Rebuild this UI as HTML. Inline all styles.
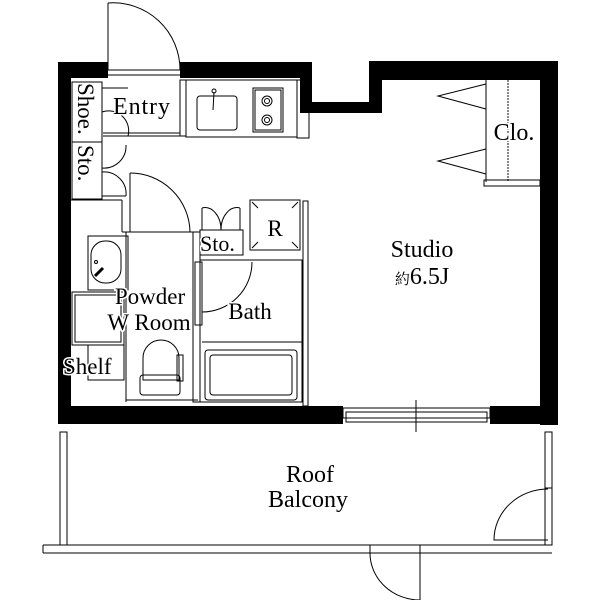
<!DOCTYPE html>
<html><head><meta charset="utf-8"><style>body{margin:0;background:#fff}svg{display:block}text{font-family:"Liberation Serif","Noto Serif CJK SC",serif;fill:#000;stroke:#fff;stroke-width:3px;paint-order:stroke}</style></head><body>
<svg width="600" height="600" viewBox="0 0 600 600" xmlns="http://www.w3.org/2000/svg">
<g fill="#000">
<rect x="58" y="62" width="50" height="16"/>
<rect x="58" y="62" width="13" height="360"/>
<rect x="180" y="62" width="132" height="16"/>
<rect x="300" y="62" width="12" height="51"/>
<rect x="300" y="102" width="82" height="11"/>
<rect x="369" y="61" width="13" height="52"/>
<rect x="369" y="61" width="189" height="19"/>
<rect x="540" y="61" width="18" height="364"/>
<rect x="58" y="406" width="285" height="18"/>
<rect x="490" y="406" width="68" height="18"/>
</g>
<g fill="none" stroke="#000" stroke-width="1">
<line x1="108" y1="3" x2="108" y2="70"/>
<path d="M108 3 A67 67 0 0 1 180 70"/>
<line x1="108" y1="70" x2="180" y2="70"/><line x1="108" y1="75" x2="180" y2="75"/>
<rect x="180" y="80" width="6" height="56"/>
<line x1="103" y1="133" x2="180" y2="133"/><line x1="103" y1="136" x2="180" y2="136"/>
<rect x="72" y="82" width="30" height="60"/>
<rect x="72" y="142" width="30" height="57"/>
<line x1="102" y1="88" x2="128" y2="88"/>
<path d="M102 112 A20 20 0 0 1 128 136"/>
<path d="M102 168 A22 22 0 0 0 126 145"/>
<path d="M102 172 A22 22 0 0 1 126 196"/>
<line x1="102" y1="196" x2="126" y2="196"/>
<line x1="71" y1="200" x2="122" y2="200"/>
<line x1="122" y1="200" x2="122" y2="232"/><line x1="122" y1="232" x2="130" y2="232"/>
<rect x="186" y="80" width="111" height="57"/>
<rect x="197" y="96" width="40" height="34" rx="3"/>
<line x1="214" y1="92" x2="213" y2="110"/><circle cx="214" cy="91" r="2"/>
<rect x="253" y="88" width="30" height="44"/><rect x="255" y="90" width="26" height="40"/>
<circle cx="267" cy="101" r="5"/><circle cx="267" cy="101" r="2.5"/>
<circle cx="267" cy="120" r="5"/><circle cx="267" cy="120" r="2.5"/>
<rect x="297" y="80" width="12" height="58"/>
<line x1="130" y1="173" x2="130" y2="232"/>
<path d="M130 173 A60 60 0 0 1 190 232"/>
<line x1="130" y1="232" x2="193" y2="232"/>
<line x1="126" y1="232" x2="126" y2="402"/>
<line x1="126" y1="400" x2="198" y2="400"/>
<rect x="193" y="232" width="7" height="170"/>
<rect x="88" y="236" width="40" height="54"/>
<rect x="91" y="241" width="30" height="42" rx="14"/>
<circle cx="96" cy="262" r="1.5"/><line x1="95" y1="276" x2="103" y2="268" stroke-width="3"/>
<rect x="72" y="292" width="52" height="53"/><rect x="75" y="295" width="46" height="47"/>
<rect x="88" y="345" width="36" height="35"/>
<path d="M143 380 L143 358 A18 18 0 0 1 179 358 L179 380 Z"/>
<rect x="140" y="375" width="40" height="20" rx="3"/>
<rect x="177" y="355" width="6" height="26"/>
<rect x="200" y="230" width="43" height="25"/>
<line x1="202" y1="208" x2="202" y2="230"/><path d="M202 208 A16 22 0 0 1 221 230"/>
<line x1="240" y1="208" x2="240" y2="230"/><path d="M240 208 A16 22 0 0 0 221 230"/>
<rect x="250" y="200" width="50" height="50"/>
<line x1="252" y1="202" x2="258" y2="208"/><line x1="298" y1="202" x2="292" y2="208"/><line x1="252" y1="248" x2="258" y2="242"/><line x1="298" y1="248" x2="292" y2="242"/>
<rect x="303" y="201" width="5" height="205"/>
<rect x="200" y="260" width="102" height="142"/>
<rect x="195" y="262" width="7" height="63"/>
<path d="M252 262 A50 50 0 0 1 202 312"/>
<line x1="202" y1="342" x2="302" y2="342"/>
<rect x="205" y="350" width="92" height="50" rx="3"/><rect x="210" y="355" width="82" height="40" rx="3"/>
<line x1="486" y1="80" x2="486" y2="182"/>
<line x1="508" y1="80" x2="508" y2="182" stroke="#888" stroke-width="2" stroke-dasharray="2 1"/>
<rect x="484" y="180" width="56" height="6"/>
<path d="M486 84 L438 96 L486 109"/><path d="M486 149 L438 161 L486 174"/>
<rect x="343" y="408" width="147" height="10"/><rect x="346" y="412" width="141" height="10"/>
<line x1="416" y1="400" x2="416" y2="432"/>
<rect x="60" y="432" width="7" height="113"/>
<path d="M43 545 H370 M420 545 H552 M43 553 H370 M420 553 H552 M43 545 V553"/>
<rect x="370" y="545" width="50" height="8"/>
<line x1="420" y1="553" x2="420" y2="600"/>
<path d="M370 553 A50 47 0 0 0 420 600"/>
<rect x="545" y="432" width="7" height="56"/>
<rect x="545" y="488" width="7" height="57"/>
<path d="M548 489 A54 51 0 0 0 494 540 L548 540"/>
</g>
<g font-size="24">
<text x="113" y="114" font-size="24" textLength="57">Entry</text>
<text transform="translate(78,83) rotate(90)" font-size="23">Shoe.</text>
<text transform="translate(78,145) rotate(90)" font-size="23">Sto.</text>
<text x="150" y="304" text-anchor="middle" font-size="23">Powder</text>
<text x="149" y="330" text-anchor="middle" font-size="23">W Room</text>
<text x="63" y="374" font-size="23">Shelf</text>
<text x="200" y="251" font-size="22">Sto.</text>
<text x="275" y="236" text-anchor="middle" font-size="23">R</text>
<text x="250" y="319" text-anchor="middle" font-size="23">Bath</text>
<text x="422" y="257" text-anchor="middle">Studio</text>
<text x="422" y="284" text-anchor="middle"><tspan font-size="15">約</tspan>6.5J</text>
<text x="514" y="140" text-anchor="middle">Clo.</text>
<text x="310" y="482" text-anchor="middle">Roof</text>
<text x="308" y="507" text-anchor="middle">Balcony</text>
</g>
</svg>
</body></html>
